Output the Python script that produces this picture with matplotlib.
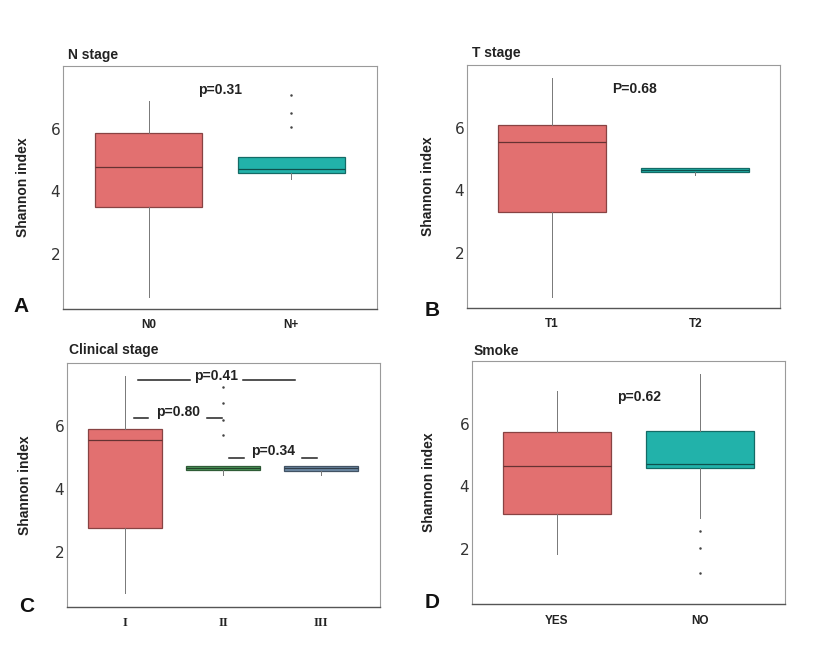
import matplotlib
matplotlib.use("Agg")
import matplotlib.pyplot as plt
import matplotlib.colors as mc
import matplotlib.transforms as mtransforms

plt.rcParams['font.family'] = ['Liberation Sans', 'DejaVu Sans']

# ---------------- data ----------------
A_groups = ["N0", "N+"]
A_med = [4.77, 4.70]
A_q1 = [3.50, 4.58]
A_q3 = [5.87, 5.10]
A_lo = [0.63, 4.40]
A_hi = [6.87, 5.10]
A_out = [[], [6.06, 6.50, 7.08]]

B_groups = ["T1", "T2"]
B_med = [5.55, 4.65]
B_q1 = [3.30, 4.60]
B_q3 = [6.10, 4.70]
B_lo = [0.60, 4.50]
B_hi = [7.60, 4.70]
B_out = [[], []]

C_groups = ["I", "II", "III"]
C_med = [5.56, 4.68, 4.65]
C_q1 = [2.76, 4.61, 4.57]
C_q3 = [5.90, 4.74, 4.72]
C_lo = [0.68, 4.43, 4.45]
C_hi = [7.60, 4.74, 4.72]
C_out = [[], [5.72, 6.20, 6.72, 7.23], []]

D_groups = ["YES", "NO"]
D_med = [4.65, 4.71]
D_q1 = [3.13, 4.58]
D_q3 = [5.75, 5.78]
D_lo = [1.84, 3.00]
D_hi = [7.04, 7.57]
D_out = [[], [1.24, 2.03, 2.57]]

y_ticks = [2, 4, 6]
y_ticklabels = ["2", "4", "6"]

titles = ["N stage", "T stage", "Clinical stage", "Smoke"]
letters = ["A", "B", "C", "D"]
pvals = ["p=0.31", "P=0.68", None, "p=0.62"]

# clinical-stage pairwise comparisons
C_p_labels = ["p=0.41", "p=0.80", "p=0.34"]
C_p_mid = [1.93, 1.54, 2.51]
C_p_text_y = [7.58, 6.44, 5.21]
C_p_line_y = [7.45, 6.25, 4.99]
C_p_inner = [0.27, 0.30, 0.30]
C_p_outer = [0.80, 0.45, 0.45]

RED = "#E27070"
TEAL = "#22B2AA"
GREEN = "#4E9A5C"
BLUE = "#6E8BA6"

W, H = 819, 665
fig = plt.figure(figsize=(W / 100, H / 100), dpi=100)
fig.patch.set_facecolor("white")


def px_axes(l, r, t, b):
    return fig.add_axes([l / W, 1 - b / H, (r - l) / W, (b - t) / H])


panels = [
    dict(box=(63, 377, 66, 309), groups=A_groups, med=A_med, q1=A_q1, q3=A_q3,
         lo=A_lo, hi=A_hi, out=A_out, colors=[RED, TEAL], xlim=(0.40, 2.60),
         ptxt=(1.5, 7.25), ylab_x=23, title_xy=(68, 55), letter_xy=(21, 307),
         tickfont='Liberation Sans', tick_y=325),
    dict(box=(467, 780, 65, 308), groups=B_groups, med=B_med, q1=B_q1, q3=B_q3,
         lo=B_lo, hi=B_hi, out=B_out, colors=[RED, TEAL], xlim=(0.41, 2.59),
         ptxt=(1.58, 7.25), ylab_x=428, title_xy=(472, 53), letter_xy=(432, 311),
         tickfont='Liberation Sans', tick_y=324),
    dict(box=(67, 380, 363, 607), groups=C_groups, med=C_med, q1=C_q1, q3=C_q3,
         lo=C_lo, hi=C_hi, out=C_out, colors=[RED, GREEN, BLUE], xlim=(0.41, 3.60),
         ptxt=None, ylab_x=25, title_xy=(69, 350), letter_xy=(27, 606),
         tickfont='Liberation Serif', tick_y=623),
    dict(box=(472, 785, 361, 604), groups=D_groups, med=D_med, q1=D_q1, q3=D_q3,
         lo=D_lo, hi=D_hi, out=D_out, colors=[RED, TEAL], xlim=(0.41, 2.59),
         ptxt=(1.57, 6.85), ylab_x=429, title_xy=(474, 351), letter_xy=(432, 602),
         tickfont='Liberation Sans', tick_y=621),
]


def darker(c, f=0.55):
    r, g, b = mc.to_rgb(c)
    return (r * f, g * f, b * f)


for i, P in enumerate(panels):
    l, r, t, b = P["box"]
    ax = px_axes(l, r, t, b)
    n = len(P["groups"])
    stats = []
    for k in range(n):
        stats.append(dict(med=P["med"][k], q1=P["q1"][k], q3=P["q3"][k],
                          whislo=P["lo"][k], whishi=P["hi"][k],
                          fliers=P["out"][k], label=P["groups"][k]))
    positions = list(range(1, n + 1))
    bp = ax.bxp(stats, positions=positions, widths=0.75, patch_artist=True,
                showcaps=False,
                whiskerprops=dict(color="#777777", lw=0.7),
                flierprops=dict(marker='.', markersize=1.6, markerfacecolor="#444444",
                                markeredgecolor="#444444", lw=0),
                medianprops=dict(color="#333333", lw=0.9))
    for k, patch in enumerate(bp["boxes"]):
        c = P["colors"][k]
        patch.set_facecolor(c)
        patch.set_edgecolor(darker(c, 0.6))
        patch.set_linewidth(0.9)
        bp["medians"][k].set_color(darker(c, 0.45))
    ax.set_xlim(*P["xlim"])
    ax.set_ylim(0.25, 8.0)
    ax.set_yticks(y_ticks)
    ax.set_yticklabels(y_ticklabels, fontsize=11, color="#333333",
                       family='DejaVu Sans')
    ax.tick_params(axis='y', length=0, pad=2)
    ax.set_xticks(positions)
    ax.set_xticklabels([])
    ax.tick_params(axis='x', length=0)
    tr = mtransforms.blended_transform_factory(ax.transData, fig.transFigure)
    for k, g in enumerate(P["groups"]):
        ax.text(positions[k], 1 - P["tick_y"] / H, g, transform=tr,
                ha='center', va='center',
                fontsize=8.5 if P["tickfont"] == 'Liberation Sans' else 9,
                fontweight='bold', family=P["tickfont"], color="#222222")
    for s in ["top", "right", "left"]:
        ax.spines[s].set_color("#9a9a9a")
        ax.spines[s].set_linewidth(0.8)
    ax.spines["bottom"].set_color("#555555")
    ax.spines["bottom"].set_linewidth(1.0)
    if P["ptxt"] is not None:
        ax.text(P["ptxt"][0], P["ptxt"][1], pvals[i], ha='center', va='center',
                fontsize=10, fontweight='bold', color="#222222")
    if i == 2:
        for lab, mid, ty, ly, a, o in zip(C_p_labels, C_p_mid, C_p_text_y,
                                          C_p_line_y, C_p_inner, C_p_outer):
            ax.text(mid, ty, lab, ha='center', va='center', fontsize=10,
                    fontweight='bold', color="#222222")
            ax.plot([mid - o, mid - a], [ly, ly], color="#222222", lw=1.1)
            ax.plot([mid + a, mid + o], [ly, ly], color="#222222", lw=1.1)
    fig.text(P["ylab_x"] / W, 1 - ((t + b) / 2) / H, "Shannon index", rotation=90,
             ha='center', va='center', fontsize=10, fontweight='bold', color="#222222")
    fig.text(P["title_xy"][0] / W, 1 - P["title_xy"][1] / H, titles[i], ha='left',
             va='center', fontsize=10, fontweight='bold', color="#222222")
    fig.text(P["letter_xy"][0] / W, 1 - P["letter_xy"][1] / H, letters[i], ha='center',
             va='center', fontsize=15, fontweight='bold', color="#111111")

fig.savefig("out.png", dpi=100, facecolor="white")
